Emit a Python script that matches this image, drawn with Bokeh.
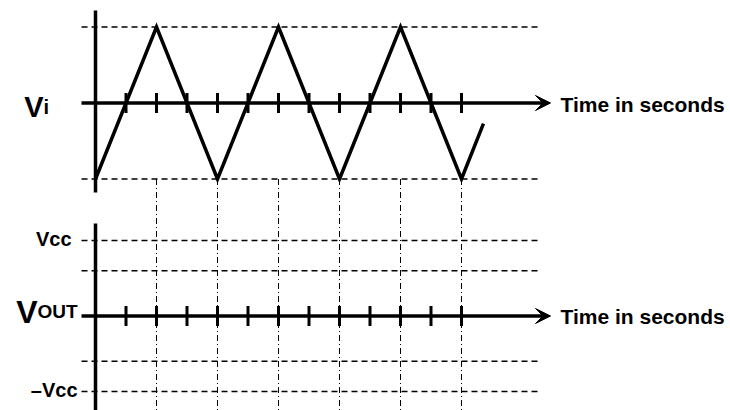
from bokeh.plotting import figure
from bokeh.models import Range1d, Arrow, VeeHead
from bokeh.core.properties import value
from bokeh.embed import file_html
from bokeh.resources import INLINE

# ---------------- data ----------------
tick_times = [1, 2, 3, 4, 5, 6, 7, 8, 9, 10, 11, 12]
vi_time = [0, 2, 4, 6, 8, 10, 12, 12.72]
vi_values = [-1, 1, -1, 1, -1, 1, -1, -0.27]
vi_levels = [1, -1]
vout_levels = [1, 0.6, -0.6, -1]
extreme_times = [2, 4, 6, 8, 10, 12]
vout_label_text = ["Vcc", "\u2013Vcc"]
vout_label_levels = [1, -1]
time_label = "Time in seconds"

# ---------------- layout (pixels) ----------------
W, H = 730, 410
PX_T, T0 = 30.5, 95        # px per time unit, x of t = 0
PX_VI, VI0 = 76, 102.5     # top panel: px per unit, y of Vi = 0
PX_VO, VO0 = 75.5, 315.5   # bottom panel: px per unit, y of Vout = 0

def tx(px):
    return (px - T0) / PX_T

def vy(py):
    return (VI0 - py) / PX_VI

def oy(py):
    return (VO0 - py) / PX_VO

p = figure(width=W, height=H, output_backend="svg", toolbar_location=None,
           x_axis_type=None, y_axis_type=None, min_border=0,
           x_range=Range1d(-T0 / PX_T, (W - T0) / PX_T),
           y_range=Range1d(-(H - VI0) / PX_VI, VI0 / PX_VI))
p.extra_y_ranges = {"out": Range1d(-(H - VO0) / PX_VO, VO0 / PX_VO)}
p.outline_line_color = None
p.xgrid.visible = False
p.ygrid.visible = False
p.background_fill_color = "white"
p.border_fill_color = "white"

FONT = value("Liberation Sans")
x_left = tx(81)
x_dash_end = tx(537)
x_tip = tx(550)

# dashed reference levels
p.multi_line(xs=[[x_left, x_dash_end] for _ in vi_levels],
             ys=[[v, v] for v in vi_levels],
             line_color="black", line_width=1.5, line_dash="6 4")
p.multi_line(xs=[[x_left, x_dash_end] for _ in vout_levels],
             ys=[[v, v] for v in vout_levels], y_range_name="out",
             line_color="black", line_width=1.5, line_dash="6 4")

# dash-dot verticals from the extremes down through the output panel
p.segment(x0=extreme_times, y0=[-1] * len(extreme_times),
          x1=extreme_times, y1=[p.y_range.start] * len(extreme_times),
          line_color="black", line_width=1, line_dash="6 3 1 3")

# vertical axes
p.segment(x0=[0], y0=[vy(10)], x1=[0], y1=[vy(192)],
          line_color="black", line_width=3.5)
p.segment(x0=[0], y0=[oy(223)], x1=[0], y1=[p.extra_y_ranges["out"].start],
          y_range_name="out", line_color="black", line_width=3.5)

# horizontal time axes with arrows
for rng in ("default", "out"):
    p.add_layout(Arrow(end=VeeHead(size=15, fill_color="black", line_color="black", line_width=1),
                       x_start=x_left, y_start=0, x_end=x_tip, y_end=0, y_range_name=rng,
                       line_color="black", line_width=3.5))

# tick marks
tk_vi = 10 / PX_VI
tk_vo = 10 / PX_VO
p.segment(x0=tick_times, y0=[-tk_vi] * len(tick_times),
          x1=tick_times, y1=[tk_vi] * len(tick_times),
          line_color="black", line_width=3)
p.segment(x0=tick_times, y0=[-tk_vo] * len(tick_times),
          x1=tick_times, y1=[tk_vo] * len(tick_times), y_range_name="out",
          line_color="black", line_width=3)

# triangular input wave
p.line(vi_time, vi_values, line_color="black", line_width=3.5, line_join="miter")

# texts
p.text(x=[tx(43)], y=[vy(106)], text=["V"], text_font=FONT, text_font_style="bold",
       text_font_size="29px", text_align="right", text_baseline="alphabetic")
p.text(x=[tx(43)], y=[vy(106)], text=["i"], text_font=FONT, text_font_style="bold",
       text_font_size="20px", text_align="left", text_baseline="alphabetic")
p.text(x=[tx(37)], y=[oy(311)], text=["V"], text_font=FONT, text_font_style="bold",
       text_font_size="32px", text_align="right", text_baseline="alphabetic",
       y_range_name="out")
p.text(x=[tx(37)], y=[oy(311)], text=["OUT"], text_font=FONT, text_font_style="bold",
       text_font_size="19px", text_align="left", text_baseline="alphabetic",
       y_range_name="out")
p.text(x=[tx(71), tx(77)], y=[v + 2 / PX_VO for v in vout_label_levels], text=vout_label_text,
       y_range_name="out", text_font=FONT, text_font_style="bold",
       text_font_size="20px", text_align="right", text_baseline="alphabetic")
p.text(x=[tx(560)], y=[vy(104)], text=[time_label], text_font=FONT,
       text_font_style="bold", text_font_size="21px", text_align="left",
       text_baseline="alphabetic")
p.text(x=[tx(560)], y=[oy(316)], text=[time_label], text_font=FONT, y_range_name="out",
       text_font_style="bold", text_font_size="21px", text_align="left",
       text_baseline="alphabetic")

open("out.html", "w").write(file_html(p, INLINE))
